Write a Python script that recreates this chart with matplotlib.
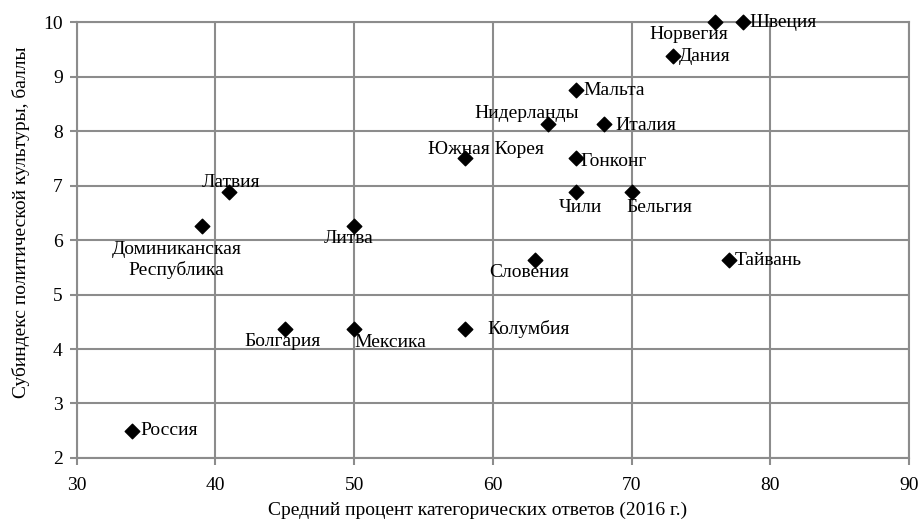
import matplotlib
matplotlib.use("Agg")
import matplotlib.pyplot as plt

plt.rcParams['font.family'] = ['Liberation Serif', 'DejaVu Serif']

countries = ["Россия", "Доминиканская\nРеспублика", "Латвия", "Болгария", "Литва",
             "Мексика", "Южная Корея", "Колумбия", "Словения", "Нидерланды",
             "Мальта", "Гонконг", "Чили", "Италия", "Бельгия", "Дания",
             "Норвегия", "Швеция", "Тайвань"]
x_vals = [34, 39, 41, 45, 50, 50, 58, 58, 63, 64, 66, 66, 66, 68, 70, 73, 76, 78, 77]
y_vals = [2.5, 6.25, 6.875, 4.375, 6.25, 4.375, 7.5, 4.375, 5.625, 8.125,
          8.75, 7.5, 6.875, 8.125, 6.875, 9.375, 10, 10, 5.625]

# label offsets in points (dx, dy) and horizontal alignment
label_pos = {
    "Россия": (6, 0, 'left'),
    "Доминиканская\nРеспублика": (-18, -24, 'center'),
    "Латвия": (1, 7, 'center'),
    "Болгария": (-2, -9, 'center'),
    "Литва": (-4, -9, 'center'),
    "Мексика": (26, -10, 'center'),
    "Южная Корея": (15, 6, 'center'),
    "Колумбия": (16, 0, 'left'),
    "Словения": (-4, -9, 'center'),
    "Нидерланды": (-16, 8, 'center'),
    "Мальта": (5, 0, 'left'),
    "Гонконг": (3, -2, 'left'),
    "Чили": (3, -11, 'center'),
    "Италия": (8, -1, 'left'),
    "Бельгия": (20, -11, 'center'),
    "Дания": (4, 0, 'left'),
    "Норвегия": (-19, -9, 'center'),
    "Швеция": (5, 0, 'left'),
    "Тайвань": (4, 0, 'left'),
}

fig = plt.figure(figsize=(9.24, 5.27), dpi=100)
ax = fig.add_axes([0.083, 0.131, 0.901, 0.827])

grid_c = '#8c8c8c'
ax.scatter(x_vals, y_vals, marker='D', s=55, color='black', zorder=3, clip_on=False)

for name, x, y in zip(countries, x_vals, y_vals):
    dx, dy, ha = label_pos[name]
    ax.annotate(name, (x, y), xytext=(dx, dy), textcoords='offset points',
                ha=ha, va='center', fontsize=14, linespacing=1.2, zorder=4)

ax.set_xlim(30, 90)
ax.set_ylim(2, 10)
ax.set_xticks(range(30, 91, 10))
ax.set_yticks(range(2, 11))
ax.grid(True, color=grid_c, linewidth=1.5)
ax.set_axisbelow(True)
for s in ax.spines.values():
    s.set_color(grid_c)
    s.set_linewidth(1.5)
ax.tick_params(colors=grid_c, labelcolor='black', labelsize=14, length=5, width=1.5)
ax.tick_params(axis='x', pad=9)
ax.tick_params(axis='y', pad=5)
ax.set_xlabel("Средний процент категорических ответов (2016 г.)", fontsize=14)
ax.set_ylabel("Субиндекс политической культуры, баллы", fontsize=14)
ax.xaxis.set_label_coords(0.482, -0.10)
ax.yaxis.set_label_coords(-0.056, 0.54)

fig.savefig("out.png", dpi=100)
